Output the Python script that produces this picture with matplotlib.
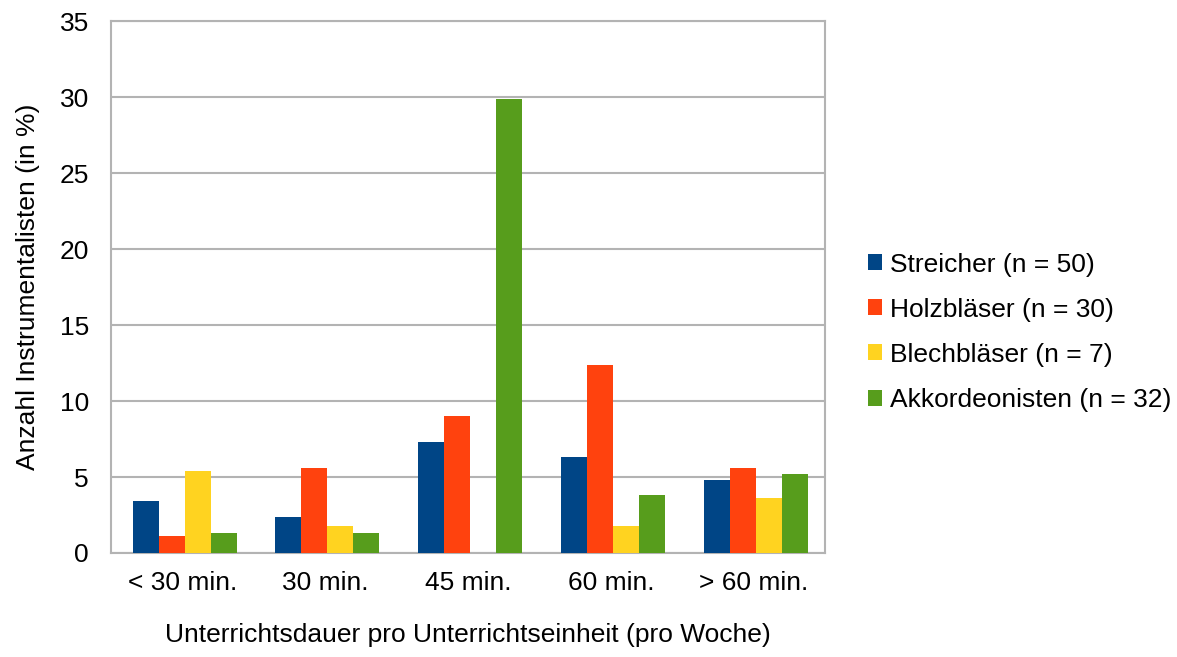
import numpy as np
import matplotlib.pyplot as plt

plt.rcParams["font.family"] = ["Liberation Sans", "DejaVu Sans"]

# Anteile je Unterrichtsdauer (in %)
categories = ["< 30 min.", "30 min.", "45 min.", "60 min.", "> 60 min."]
streicher = [3.4, 2.4, 7.3, 6.3, 4.8]
holzblaeser = [1.1, 5.6, 9.0, 12.4, 5.6]
blechblaeser = [5.4, 1.8, 0.0, 1.8, 3.6]
akkordeon = [1.3, 1.3, 29.9, 3.8, 5.2]

series = [
    ("Streicher (n = 50)", streicher, "#004586"),
    ("Holzbläser (n = 30)", holzblaeser, "#ff420e"),
    ("Blechbläser (n = 7)", blechblaeser, "#ffd320"),
    ("Akkordeonisten (n = 32)", akkordeon, "#579d1c"),
]

fig = plt.figure(figsize=(11.77, 6.57), dpi=100)
ax = fig.add_axes([0.0943, 0.1583, 0.6067, 0.8097])

x = np.arange(len(categories))
w = 0.182
for i, (label, vals, color) in enumerate(series):
    ax.bar(x + 0.015 + (i - 1.5) * w, vals, width=w, color=color, label=label,
           zorder=3, linewidth=0)

ax.set_xlim(-0.5, len(categories) - 0.5)
ax.set_ylim(0, 35)
ax.set_yticks(range(0, 36, 5))
ax.set_xticks(x)
ax.set_xticklabels(categories)
ax.tick_params(axis="both", length=0, labelsize=19)
ax.tick_params(axis="y", pad=16)
ax.tick_params(axis="x", pad=13)
ax.grid(axis="y", color="#b3b3b3", linewidth=1.5, zorder=0)
for s in ax.spines.values():
    s.set_color("#b3b3b3")
    s.set_linewidth(1.5)

ax.set_xlabel("Unterrichtsdauer pro Unterrichtseinheit (pro Woche)",
              fontsize=19, labelpad=20)
ax.set_ylabel("Anzahl Instrumentalisten (in %)", fontsize=19, labelpad=14)

ax.legend(loc="center left", bbox_to_anchor=(1.045, 0.415), frameon=False,
          fontsize=19, handlelength=0.55, handleheight=0.55,
          handletextpad=0.3, labelspacing=0.8, borderaxespad=0)

fig.savefig("out.png", dpi=100)
